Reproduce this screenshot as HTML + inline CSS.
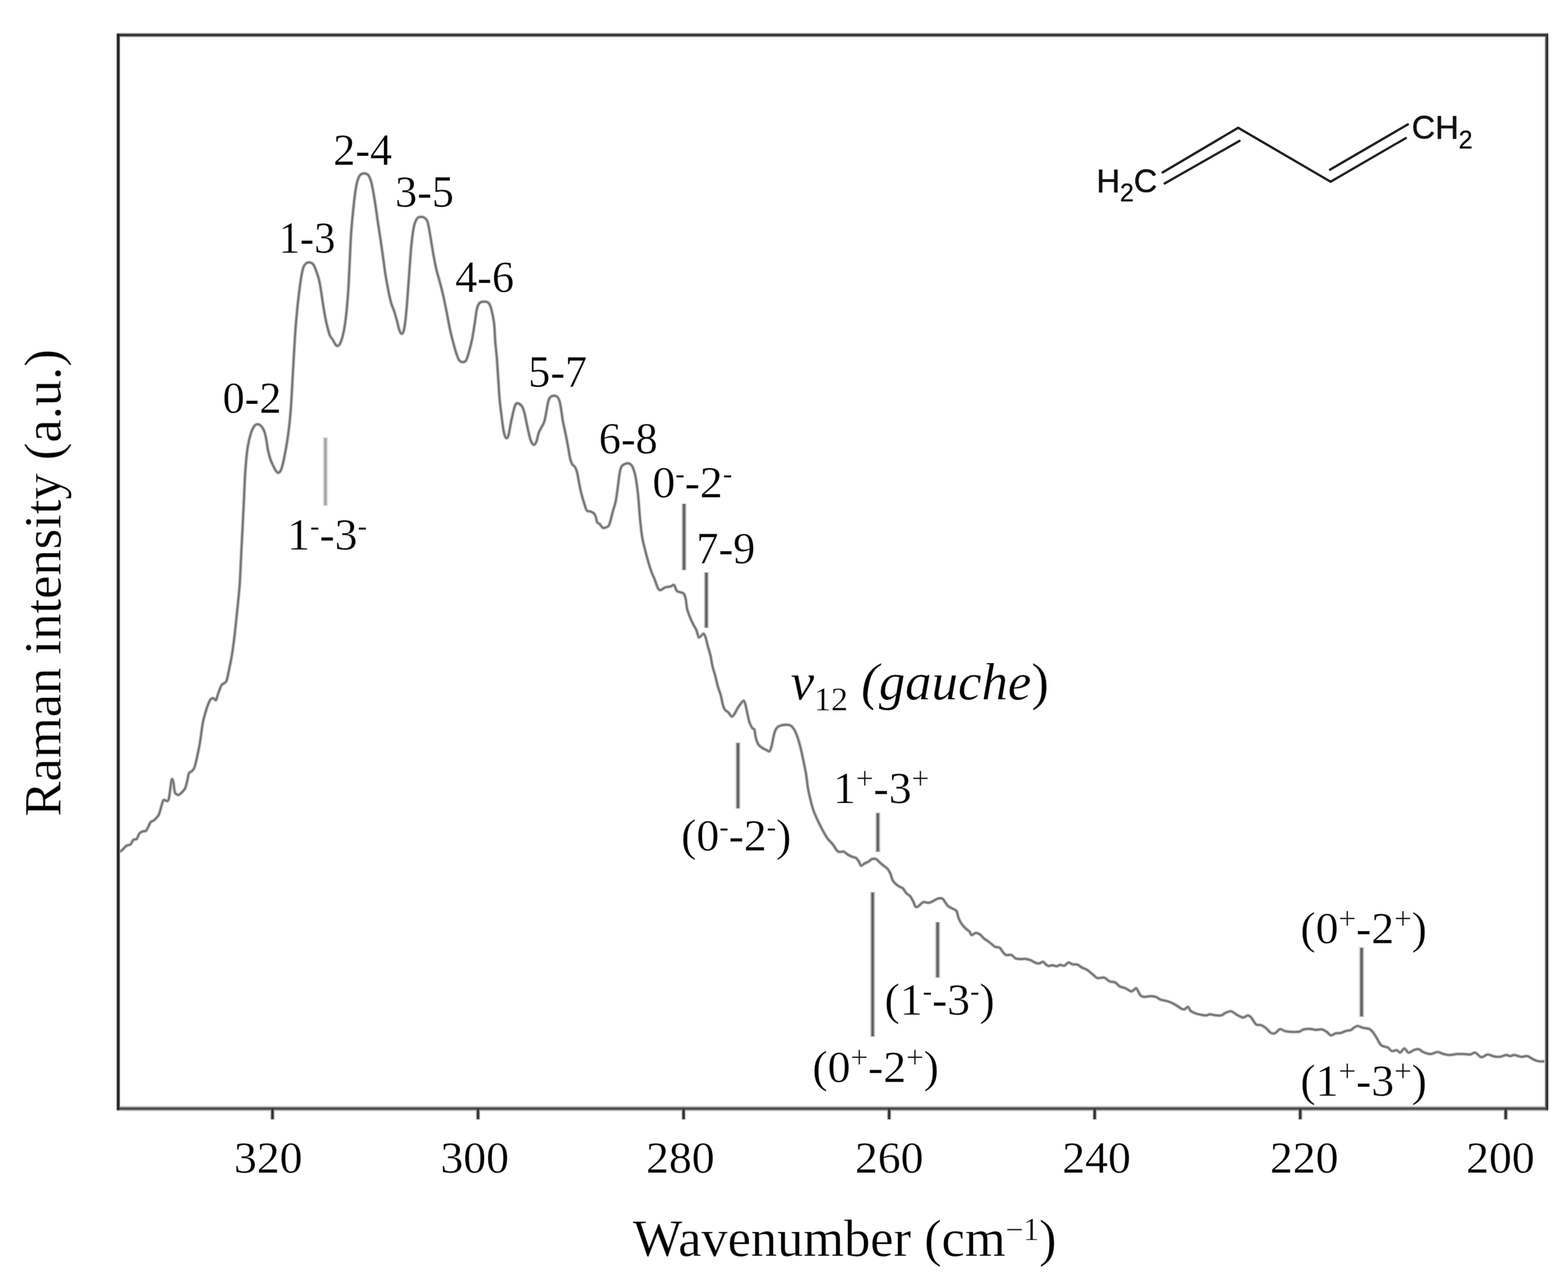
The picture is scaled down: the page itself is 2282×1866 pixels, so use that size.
<!DOCTYPE html>
<html lang="en"><head><meta charset="utf-8"><title>Raman spectrum of 1,3-butadiene</title>
<style>html,body{margin:0;padding:0;background:#fff;}body{width:2282px;height:1866px;overflow:hidden;}svg{display:block;}text{font-family:"Liberation Serif",serif;fill:#000;}.sans{font-family:"Liberation Sans",sans-serif;fill:#111;}.lab text{stroke:#fff;stroke-opacity:0.45;stroke-width:1.0px;stroke-linejoin:round;}.lab text.sans{stroke:#111;stroke-opacity:1;stroke-width:0.5px;}</style></head><body>
<svg xmlns="http://www.w3.org/2000/svg" width="2282" height="1866" viewBox="0 0 2282 1866">
<rect width="2282" height="1866" fill="#fff"/>
<defs><path id="sp" d="M172.4,1241.0C173.3,1240.3 176.1,1238.7 178.0,1237.0C179.9,1235.3 182.0,1232.3 184.0,1231.0C186.0,1229.7 188.3,1230.4 190.0,1229.0C191.7,1227.6 192.5,1223.9 194.0,1222.6C195.5,1221.3 197.5,1222.6 199.0,1221.0C200.5,1219.4 201.5,1214.8 203.0,1213.0C204.5,1211.2 206.3,1210.7 208.0,1210.0C209.7,1209.3 211.2,1210.8 213.0,1208.6C214.8,1206.4 217.2,1199.4 219.0,1197.0C220.8,1194.6 222.0,1195.8 224.0,1194.0C226.0,1192.2 229.2,1189.5 231.0,1186.0C232.8,1182.5 233.8,1176.6 235.0,1173.0C236.2,1169.4 236.6,1165.8 238.0,1164.6C239.4,1163.4 242.3,1166.6 243.6,1166.0C244.9,1165.4 245.0,1165.8 246.0,1161.0C247.0,1156.2 248.6,1141.4 249.4,1137.0C250.2,1132.6 250.5,1134.3 251.0,1134.6C251.5,1134.9 251.8,1135.9 252.4,1139.0C253.0,1142.1 253.6,1150.2 254.4,1153.0C255.2,1155.8 256.1,1155.3 257.0,1156.0C257.9,1156.7 258.7,1157.5 260.0,1157.0C261.3,1156.5 263.4,1154.7 265.0,1153.0C266.6,1151.3 268.4,1149.7 269.6,1147.0C270.8,1144.3 271.5,1140.6 272.4,1137.0C273.3,1133.4 273.9,1127.8 275.0,1125.4C276.1,1123.0 277.7,1124.0 279.0,1122.6C280.3,1121.2 281.7,1120.6 283.0,1117.0C284.3,1113.4 285.7,1107.0 287.0,1101.0C288.3,1095.0 289.7,1089.0 291.0,1081.0C292.3,1073.0 293.7,1060.3 295.0,1053.0C296.3,1045.7 297.7,1041.7 299.0,1037.0C300.3,1032.3 301.7,1028.3 303.0,1025.0C304.3,1021.7 305.7,1018.8 307.0,1017.4C308.3,1016.0 309.8,1016.3 311.0,1016.6C312.2,1016.9 313.4,1019.9 314.4,1019.0C315.4,1018.1 315.7,1014.5 317.0,1011.0C318.3,1007.5 320.5,1000.7 322.0,998.0C323.5,995.3 324.7,995.8 326.0,994.6C327.3,993.4 328.5,993.9 329.6,991.0C330.8,988.1 331.7,982.7 332.9,977.0C334.1,971.3 335.7,963.7 336.9,957.0C338.1,950.3 339.0,943.8 339.9,937.0C340.8,930.2 341.4,925.2 342.4,916.0C343.4,906.8 344.8,893.0 345.9,882.0C347.0,871.0 348.1,862.0 348.9,850.0C349.7,838.0 350.2,823.3 350.9,810.0C351.6,796.7 352.2,783.3 352.9,770.0C353.6,756.7 354.2,744.0 354.9,730.0C355.6,716.0 356.1,699.2 357.0,686.0C357.9,672.8 359.1,660.4 360.5,651.0C361.9,641.6 363.8,634.7 365.5,629.5C367.2,624.3 368.9,621.6 370.5,619.6C372.1,617.6 373.6,617.4 375.2,617.5C376.8,617.6 378.8,618.5 380.4,620.3C382.0,622.0 383.5,625.0 384.7,628.0C385.9,631.0 386.4,633.9 387.3,638.4C388.2,642.9 388.9,649.9 389.9,654.8C390.9,659.7 392.0,663.9 393.3,667.8C394.6,671.7 396.2,675.2 397.7,678.2C399.1,681.2 400.8,684.2 402.0,685.9C403.2,687.5 403.9,688.4 405.0,688.1C406.1,687.8 407.7,686.9 408.9,684.2C410.1,681.5 411.2,677.0 412.4,672.1C413.5,667.2 414.6,661.3 415.8,654.8C417.0,648.3 418.3,640.7 419.3,633.2C420.3,625.7 421.1,619.4 422.0,610.0C422.9,600.6 423.6,590.3 424.4,577.0C425.2,563.7 426.1,546.2 427.0,530.0C427.9,513.8 429.0,494.0 430.0,480.0C431.0,466.0 432.0,456.0 433.0,446.0C434.0,436.0 435.0,427.7 436.0,420.0C437.0,412.3 438.0,405.3 439.0,400.0C440.0,394.7 440.8,390.8 442.0,388.0C443.2,385.2 444.5,384.0 446.0,383.0C447.5,382.0 449.3,381.7 451.0,382.0C452.7,382.3 454.5,383.0 456.0,385.0C457.5,387.0 458.7,390.5 460.0,394.0C461.3,397.5 462.8,401.3 464.0,406.0C465.2,410.7 466.0,416.0 467.0,422.0C468.0,428.0 469.0,435.7 470.0,442.0C471.0,448.3 472.0,454.7 473.0,460.0C474.0,465.3 474.8,469.3 476.0,474.0C477.2,478.7 478.7,484.7 480.0,488.0C481.3,491.3 482.7,491.8 484.0,494.0C485.3,496.2 486.8,499.4 488.0,501.0C489.2,502.6 489.8,503.8 491.0,503.6C492.2,503.4 493.7,502.6 495.0,500.0C496.3,497.4 497.8,493.0 499.0,488.0C500.2,483.0 501.4,477.0 502.4,470.0C503.4,463.0 504.2,454.3 505.0,446.0C505.8,437.7 506.3,431.0 507.0,420.0C507.7,409.0 508.3,393.3 509.0,380.0C509.7,366.7 510.2,352.3 511.0,340.0C511.8,327.7 513.0,316.0 514.0,306.0C515.0,296.0 516.0,287.0 517.0,280.0C518.0,273.0 518.8,268.2 520.0,264.0C521.2,259.8 522.3,256.9 524.0,255.0C525.7,253.1 528.0,252.4 530.0,252.4C532.0,252.4 534.3,253.1 536.0,255.0C537.7,256.9 538.8,260.2 540.0,264.0C541.2,267.8 542.0,272.7 543.0,278.0C544.0,283.3 544.8,288.3 546.0,296.0C547.2,303.7 548.7,315.0 550.0,324.0C551.3,333.0 552.7,341.0 554.0,350.0C555.3,359.0 556.8,369.7 558.0,378.0C559.2,386.3 559.8,392.7 561.0,400.0C562.2,407.3 563.7,415.3 565.0,422.0C566.3,428.7 567.5,434.7 569.0,440.0C570.5,445.3 572.5,449.3 574.0,454.0C575.5,458.7 576.8,463.7 578.0,468.0C579.2,472.3 580.0,477.1 581.0,480.0C582.0,482.9 583.0,485.1 584.0,485.6C585.0,486.1 586.1,485.6 587.0,483.0C587.9,480.4 588.8,476.2 589.6,470.0C590.4,463.8 591.2,455.3 592.0,446.0C592.8,436.7 593.7,424.0 594.4,414.0C595.1,404.0 595.7,395.0 596.4,386.0C597.1,377.0 597.6,368.0 598.4,360.0C599.2,352.0 600.1,344.0 601.0,338.0C601.9,332.0 602.8,327.5 604.0,324.0C605.2,320.5 606.5,318.4 608.0,317.0C609.5,315.6 611.3,315.6 613.0,315.6C614.7,315.6 616.5,315.9 618.0,317.0C619.5,318.1 620.8,318.8 622.0,322.0C623.2,325.2 624.0,330.7 625.0,336.0C626.0,341.3 627.0,348.0 628.0,354.0C629.0,360.0 629.8,365.7 631.0,372.0C632.2,378.3 633.5,385.7 635.0,392.0C636.5,398.3 638.3,403.7 640.0,410.0C641.7,416.3 643.3,422.7 645.0,430.0C646.7,437.3 648.3,445.7 650.0,454.0C651.7,462.3 653.3,472.3 655.0,480.0C656.7,487.7 658.5,494.3 660.0,500.0C661.5,505.7 662.7,510.0 664.0,514.0C665.3,518.0 666.5,521.8 668.0,524.0C669.5,526.2 671.3,526.8 673.0,527.0C674.7,527.2 676.5,527.2 678.0,525.0C679.5,522.8 680.5,519.2 682.0,514.0C683.5,508.8 685.5,501.3 687.0,494.0C688.5,486.7 689.8,477.3 691.0,470.0C692.2,462.7 692.8,454.8 694.0,450.0C695.2,445.2 696.2,442.8 698.0,441.0C699.8,439.2 702.8,439.0 705.0,439.0C707.2,439.0 709.3,439.2 711.0,441.0C712.7,442.8 713.7,445.2 715.0,450.0C716.3,454.8 718.0,461.7 719.0,470.0C720.0,478.3 720.3,491.7 721.0,500.0C721.7,508.3 722.3,511.7 723.0,520.0C723.7,528.3 724.3,540.0 725.0,550.0C725.7,560.0 726.2,570.7 727.0,580.0C727.8,589.3 729.1,598.7 730.0,606.0C730.9,613.3 731.6,619.2 732.4,624.0C733.2,628.8 734.1,632.7 735.0,635.0C735.9,637.3 737.1,638.1 738.0,637.6C738.9,637.1 739.6,635.3 740.4,632.0C741.2,628.7 742.1,622.7 743.0,618.0C743.9,613.3 745.0,608.3 746.0,604.0C747.0,599.7 748.0,594.8 749.0,592.0C750.0,589.2 750.8,587.7 752.0,587.0C753.2,586.3 754.7,587.2 756.0,588.0C757.3,588.8 758.8,590.0 760.0,592.0C761.2,594.0 762.0,596.3 763.0,600.0C764.0,603.7 765.0,609.3 766.0,614.0C767.0,618.7 768.0,623.7 769.0,628.0C770.0,632.3 771.0,637.0 772.0,640.0C773.0,643.0 774.0,644.8 775.0,646.0C776.0,647.2 777.0,647.7 778.0,647.0C779.0,646.3 780.0,644.8 781.0,642.0C782.0,639.2 782.8,633.3 784.0,630.0C785.2,626.7 786.7,624.7 788.0,622.0C789.3,619.3 790.8,617.7 792.0,614.0C793.2,610.3 794.0,605.0 795.0,600.0C796.0,595.0 797.0,587.7 798.0,584.0C799.0,580.3 799.7,579.3 801.0,578.0C802.3,576.7 804.3,576.1 806.0,576.0C807.7,575.9 809.6,576.3 811.0,577.6C812.4,578.9 813.4,580.6 814.4,584.0C815.4,587.4 816.2,593.3 817.0,598.0C817.8,602.7 818.1,607.0 819.0,612.0C819.9,617.0 821.3,622.7 822.4,628.0C823.5,633.3 824.6,638.7 825.6,644.0C826.6,649.3 827.6,655.7 828.4,660.0C829.2,664.3 829.6,667.3 830.4,670.0C831.2,672.7 831.9,674.3 833.0,676.0C834.1,677.7 835.8,678.0 837.0,680.0C838.2,682.0 839.0,684.0 840.0,688.0C841.0,692.0 842.0,699.0 843.0,704.0C844.0,709.0 844.8,713.3 846.0,718.0C847.2,722.7 848.7,727.8 850.0,732.0C851.3,736.2 852.5,740.9 854.0,743.0C855.5,745.1 857.3,743.7 859.0,744.4C860.7,745.1 862.7,745.7 864.0,747.0C865.3,748.3 866.2,749.8 867.0,752.0C867.8,754.2 868.0,758.2 869.0,760.0C870.0,761.8 871.7,761.7 873.0,763.0C874.3,764.3 875.7,767.2 877.0,768.0C878.3,768.8 879.5,768.5 881.0,768.0C882.5,767.5 884.7,767.0 886.0,765.0C887.3,763.0 888.0,759.5 889.0,756.0C890.0,752.5 890.8,748.3 892.0,744.0C893.2,739.7 894.8,735.7 896.0,730.0C897.2,724.3 898.1,716.7 899.0,710.0C899.9,703.3 900.8,695.0 901.6,690.0C902.4,685.0 902.9,682.3 904.0,680.0C905.1,677.7 906.3,676.9 908.0,676.0C909.7,675.1 912.2,674.2 914.0,674.4C915.8,674.6 917.5,675.1 919.0,677.0C920.5,678.9 921.8,682.2 923.0,686.0C924.2,689.8 925.0,693.7 926.0,700.0C927.0,706.3 928.2,715.7 929.0,724.0C929.8,732.3 930.3,742.3 931.0,750.0C931.7,757.7 932.3,764.3 933.0,770.0C933.7,775.7 934.2,779.5 935.0,784.0C935.8,788.5 936.7,791.7 938.0,797.0C939.3,802.3 941.3,810.2 943.0,816.0C944.7,821.8 946.3,827.3 948.0,832.0C949.7,836.7 951.5,840.2 953.0,844.0C954.5,847.8 955.7,852.5 957.0,855.0C958.3,857.5 959.2,859.0 961.0,859.0C962.8,859.0 965.5,855.9 968.0,855.0C970.5,854.1 973.8,854.2 976.0,853.6C978.2,853.0 979.5,850.5 981.0,851.6C982.5,852.7 983.5,858.3 985.0,860.0C986.5,861.7 988.3,861.3 990.0,862.0C991.7,862.7 993.7,862.3 995.0,864.0C996.3,865.7 997.2,868.3 998.0,872.0C998.8,875.7 999.0,881.7 1000.0,886.0C1001.0,890.3 1002.5,894.2 1004.0,898.0C1005.5,901.8 1007.5,906.0 1009.0,909.0C1010.5,912.0 1011.9,913.5 1013.0,916.0C1014.1,918.5 1014.9,922.0 1015.6,924.0C1016.3,926.0 1016.1,927.8 1017.0,928.0C1017.9,928.2 1019.8,925.9 1021.0,925.0C1022.2,924.1 1023.0,921.9 1024.0,922.4C1025.0,922.9 1026.0,925.1 1027.0,928.0C1028.0,930.9 1028.8,935.7 1030.0,940.0C1031.2,944.3 1032.8,949.0 1034.0,954.0C1035.2,959.0 1035.8,965.0 1037.0,970.0C1038.2,975.0 1039.7,979.0 1041.0,984.0C1042.3,989.0 1043.7,995.3 1045.0,1000.0C1046.3,1004.7 1047.8,1007.7 1049.0,1012.0C1050.2,1016.3 1051.0,1022.5 1052.0,1026.0C1053.0,1029.5 1053.7,1031.2 1055.0,1033.0C1056.3,1034.8 1058.3,1035.3 1060.0,1037.0C1061.7,1038.7 1063.5,1042.7 1065.0,1043.0C1066.5,1043.3 1067.5,1041.2 1069.0,1039.0C1070.5,1036.8 1072.3,1032.7 1074.0,1030.0C1075.7,1027.3 1077.6,1024.7 1079.0,1023.0C1080.4,1021.3 1081.4,1019.5 1082.4,1020.0C1083.4,1020.5 1084.1,1022.7 1085.0,1026.0C1085.9,1029.3 1087.0,1035.7 1088.0,1040.0C1089.0,1044.3 1089.8,1048.7 1091.0,1052.0C1092.2,1055.3 1093.8,1058.3 1095.0,1060.0C1096.2,1061.7 1097.2,1059.7 1098.0,1062.0C1098.8,1064.3 1099.0,1070.3 1100.0,1074.0C1101.0,1077.7 1102.3,1081.5 1104.0,1084.0C1105.7,1086.5 1108.0,1087.7 1110.0,1089.0C1112.0,1090.3 1114.4,1091.2 1116.0,1092.0C1117.6,1092.8 1118.5,1094.3 1119.6,1093.6C1120.7,1092.9 1121.5,1090.9 1122.4,1088.0C1123.3,1085.1 1124.1,1080.0 1125.0,1076.0C1125.9,1072.0 1126.8,1067.0 1128.0,1064.0C1129.2,1061.0 1130.3,1059.4 1132.0,1058.0C1133.7,1056.6 1135.7,1056.1 1138.0,1055.6C1140.3,1055.1 1143.7,1054.8 1146.0,1055.0C1148.3,1055.2 1150.2,1055.5 1152.0,1057.0C1153.8,1058.5 1155.5,1061.2 1157.0,1064.0C1158.5,1066.8 1159.7,1070.0 1161.0,1074.0C1162.3,1078.0 1163.7,1082.7 1165.0,1088.0C1166.3,1093.3 1167.7,1099.7 1169.0,1106.0C1170.3,1112.3 1171.8,1119.0 1173.0,1126.0C1174.2,1133.0 1174.8,1141.3 1176.0,1148.0C1177.2,1154.7 1178.7,1160.7 1180.0,1166.0C1181.3,1171.3 1182.3,1175.3 1184.0,1180.0C1185.7,1184.7 1187.8,1189.3 1190.0,1194.0C1192.2,1198.7 1194.7,1203.7 1197.0,1208.0C1199.3,1212.3 1201.5,1216.5 1204.0,1220.0C1206.5,1223.5 1209.7,1226.0 1212.0,1229.0C1214.3,1232.0 1216.3,1236.2 1218.0,1238.0C1219.7,1239.8 1220.3,1239.7 1222.0,1240.0C1223.7,1240.3 1226.0,1238.9 1228.0,1239.6C1230.0,1240.3 1232.0,1242.8 1234.0,1244.0C1236.0,1245.2 1238.0,1246.2 1240.0,1247.0C1242.0,1247.8 1244.3,1247.8 1246.0,1249.0C1247.7,1250.2 1248.8,1252.2 1250.0,1254.0C1251.2,1255.8 1251.7,1259.5 1253.0,1260.0C1254.3,1260.5 1256.2,1258.0 1258.0,1257.0C1259.8,1256.0 1262.2,1255.1 1264.0,1254.0C1265.8,1252.9 1267.2,1251.0 1269.0,1250.4C1270.8,1249.8 1273.2,1249.6 1275.0,1250.4C1276.8,1251.2 1278.2,1253.4 1280.0,1255.0C1281.8,1256.6 1284.0,1258.3 1286.0,1260.0C1288.0,1261.7 1290.3,1263.0 1292.0,1265.0C1293.7,1267.0 1294.8,1269.3 1296.0,1272.0C1297.2,1274.7 1297.7,1278.5 1299.0,1281.0C1300.3,1283.5 1302.2,1285.3 1304.0,1287.0C1305.8,1288.7 1308.3,1290.0 1310.0,1291.0C1311.7,1292.0 1312.5,1291.5 1314.0,1293.0C1315.5,1294.5 1317.2,1298.0 1319.0,1300.0C1320.8,1302.0 1323.3,1303.0 1325.0,1305.0C1326.7,1307.0 1327.8,1309.7 1329.0,1312.0C1330.2,1314.3 1331.0,1317.7 1332.0,1319.0C1333.0,1320.3 1333.7,1320.5 1335.0,1320.0C1336.3,1319.5 1338.5,1317.2 1340.0,1316.0C1341.5,1314.8 1342.0,1313.3 1344.0,1313.0C1346.0,1312.7 1349.5,1314.3 1352.0,1314.0C1354.5,1313.7 1356.7,1312.1 1359.0,1311.0C1361.3,1309.9 1363.8,1308.0 1366.0,1307.6C1368.2,1307.2 1370.3,1307.3 1372.0,1308.4C1373.7,1309.5 1374.7,1312.2 1376.0,1314.0C1377.3,1315.8 1378.3,1317.6 1380.0,1319.0C1381.7,1320.4 1384.0,1321.2 1386.0,1322.4C1388.0,1323.6 1390.5,1323.7 1392.0,1326.0C1393.5,1328.3 1393.8,1333.0 1395.0,1336.0C1396.2,1339.0 1397.3,1341.5 1399.0,1344.0C1400.7,1346.5 1403.0,1349.0 1405.0,1351.0C1407.0,1353.0 1409.5,1354.3 1411.0,1356.0C1412.5,1357.7 1412.5,1360.7 1414.0,1361.0C1415.5,1361.3 1418.0,1358.2 1420.0,1358.0C1422.0,1357.8 1424.0,1358.7 1426.0,1360.0C1428.0,1361.3 1430.0,1364.3 1432.0,1366.0C1434.0,1367.7 1436.2,1368.7 1438.0,1370.0C1439.8,1371.3 1441.3,1372.7 1443.0,1374.0C1444.7,1375.3 1446.0,1377.1 1448.0,1378.0C1450.0,1378.9 1453.2,1378.4 1455.0,1379.6C1456.8,1380.8 1457.5,1383.3 1459.0,1385.0C1460.5,1386.7 1461.8,1389.2 1464.0,1390.0C1466.2,1390.8 1469.7,1389.2 1472.0,1390.0C1474.3,1390.8 1475.7,1394.0 1478.0,1395.0C1480.3,1396.0 1483.7,1395.9 1486.0,1396.0C1488.3,1396.1 1489.7,1395.3 1492.0,1395.6C1494.3,1395.9 1497.7,1396.7 1500.0,1397.6C1502.3,1398.5 1504.0,1400.2 1506.0,1401.0C1508.0,1401.8 1510.0,1402.6 1512.0,1402.4C1514.0,1402.2 1516.3,1399.8 1518.0,1400.0C1519.7,1400.2 1520.7,1402.6 1522.0,1403.6C1523.3,1404.6 1524.3,1405.8 1526.0,1406.0C1527.7,1406.2 1530.0,1404.9 1532.0,1405.0C1534.0,1405.1 1536.2,1406.5 1538.0,1406.4C1539.8,1406.3 1541.2,1404.5 1543.0,1404.4C1544.8,1404.3 1547.0,1406.2 1549.0,1405.6C1551.0,1405.0 1553.0,1401.3 1555.0,1401.0C1557.0,1400.7 1558.8,1403.1 1561.0,1403.6C1563.2,1404.1 1565.8,1403.3 1568.0,1404.0C1570.2,1404.7 1571.7,1406.7 1574.0,1408.0C1576.3,1409.3 1579.3,1409.9 1582.0,1411.6C1584.7,1413.3 1587.5,1416.0 1590.0,1418.0C1592.5,1420.0 1594.2,1422.8 1597.0,1423.6C1599.8,1424.4 1604.0,1422.2 1607.0,1423.0C1610.0,1423.8 1612.3,1427.2 1615.0,1428.4C1617.7,1429.6 1620.5,1428.7 1623.0,1430.0C1625.5,1431.3 1627.5,1434.6 1630.0,1436.0C1632.5,1437.4 1635.3,1437.2 1638.0,1438.4C1640.7,1439.6 1644.0,1442.6 1646.0,1443.0C1648.0,1443.4 1648.7,1441.8 1650.0,1441.0C1651.3,1440.2 1652.4,1437.9 1653.6,1438.4C1654.8,1438.9 1655.9,1442.2 1657.0,1444.0C1658.1,1445.8 1658.7,1447.8 1660.0,1449.0C1661.3,1450.2 1662.7,1450.8 1665.0,1451.0C1667.3,1451.2 1671.2,1450.0 1674.0,1450.0C1676.8,1450.0 1679.5,1450.2 1682.0,1451.0C1684.5,1451.8 1686.3,1454.0 1689.0,1455.0C1691.7,1456.0 1695.2,1456.2 1698.0,1457.0C1700.8,1457.8 1703.5,1458.8 1706.0,1460.0C1708.5,1461.2 1710.8,1462.7 1713.0,1464.0C1715.2,1465.3 1717.2,1467.2 1719.0,1468.0C1720.8,1468.8 1722.3,1469.4 1724.0,1469.0C1725.7,1468.6 1727.5,1465.2 1729.0,1465.6C1730.5,1466.0 1731.2,1470.0 1733.0,1471.6C1734.8,1473.2 1737.5,1474.1 1740.0,1475.0C1742.5,1475.9 1745.5,1476.5 1748.0,1477.0C1750.5,1477.5 1752.8,1478.1 1755.0,1478.0C1757.2,1477.9 1758.8,1476.5 1761.0,1476.4C1763.2,1476.3 1765.3,1477.3 1768.0,1477.6C1770.7,1477.9 1774.3,1478.6 1777.0,1478.0C1779.7,1477.4 1781.5,1475.0 1784.0,1474.0C1786.5,1473.0 1789.3,1471.5 1792.0,1472.0C1794.7,1472.5 1797.2,1475.5 1800.0,1477.0C1802.8,1478.5 1806.3,1480.8 1809.0,1481.0C1811.7,1481.2 1814.0,1478.0 1816.0,1478.0C1818.0,1478.0 1819.0,1478.8 1821.0,1481.0C1823.0,1483.2 1825.7,1489.2 1828.0,1491.0C1830.3,1492.8 1832.7,1491.2 1835.0,1492.0C1837.3,1492.8 1839.7,1494.2 1842.0,1496.0C1844.3,1497.8 1847.0,1501.6 1849.0,1503.0C1851.0,1504.4 1852.5,1504.6 1854.0,1504.4C1855.5,1504.2 1856.5,1503.1 1858.0,1502.0C1859.5,1500.9 1860.8,1498.2 1863.0,1498.0C1865.2,1497.8 1868.0,1500.3 1871.0,1501.0C1874.0,1501.7 1877.7,1501.9 1881.0,1502.0C1884.3,1502.1 1888.3,1502.2 1891.0,1501.6C1893.7,1501.0 1894.3,1499.1 1897.0,1498.4C1899.7,1497.7 1904.0,1497.5 1907.0,1497.6C1910.0,1497.7 1912.2,1498.9 1915.0,1499.0C1917.8,1499.1 1921.3,1497.9 1924.0,1498.4C1926.7,1498.9 1928.8,1500.6 1931.0,1502.0C1933.2,1503.4 1934.8,1506.7 1937.0,1507.0C1939.2,1507.3 1941.7,1504.6 1944.0,1504.0C1946.3,1503.4 1948.5,1504.2 1951.0,1503.6C1953.5,1503.0 1956.6,1501.2 1959.1,1500.5C1961.6,1499.8 1964.1,1500.1 1966.2,1499.2C1968.2,1498.3 1969.5,1496.2 1971.2,1495.3C1972.9,1494.3 1974.2,1493.2 1976.3,1493.3C1978.3,1493.4 1980.6,1495.3 1983.3,1496.0C1986.0,1496.7 1990.1,1496.6 1992.4,1497.5C1994.8,1498.4 1995.6,1499.4 1997.5,1501.6C1999.3,1503.8 2001.7,1507.6 2003.5,1510.6C2005.4,1513.7 2007.1,1517.7 2008.6,1519.7C2010.1,1521.7 2010.8,1521.9 2012.6,1522.7C2014.5,1523.6 2017.5,1523.6 2019.7,1524.8C2021.9,1526.0 2023.6,1529.3 2025.8,1529.9C2027.9,1530.5 2030.8,1528.2 2032.8,1528.6C2034.8,1528.9 2036.0,1532.5 2037.9,1532.0C2039.7,1531.6 2041.9,1526.1 2043.9,1526.1C2046.0,1526.1 2047.6,1531.8 2050.0,1532.2C2052.3,1532.5 2055.5,1529.0 2058.0,1528.2C2060.5,1527.4 2062.8,1526.7 2065.0,1527.2C2067.2,1527.7 2068.2,1530.0 2071.0,1531.2C2073.8,1532.4 2078.5,1534.2 2082.0,1534.2C2085.5,1534.2 2088.8,1531.2 2092.0,1531.2C2095.2,1531.2 2098.0,1533.5 2101.0,1534.2C2104.0,1534.9 2106.8,1535.6 2110.0,1535.6C2113.2,1535.6 2116.7,1534.4 2120.0,1534.2C2123.3,1534.0 2126.7,1534.1 2130.0,1534.2C2133.3,1534.3 2137.2,1535.1 2140.0,1534.8C2142.8,1534.5 2144.3,1531.5 2147.0,1532.2C2149.7,1532.9 2153.0,1538.4 2156.0,1538.8C2159.0,1539.2 2162.0,1535.0 2165.0,1534.8C2168.0,1534.6 2171.0,1537.0 2174.0,1537.6C2177.0,1538.2 2180.0,1538.5 2183.0,1538.2C2186.0,1537.9 2189.5,1535.8 2192.0,1535.6C2194.5,1535.4 2196.0,1537.2 2198.0,1537.2C2200.0,1537.2 2201.3,1535.4 2204.0,1535.6C2206.7,1535.8 2210.8,1537.9 2214.0,1538.2C2217.2,1538.5 2220.0,1536.5 2223.0,1537.2C2226.0,1537.9 2229.2,1540.9 2232.0,1542.2C2234.8,1543.5 2237.0,1544.4 2240.0,1544.8C2243.0,1545.2 2248.3,1544.8 2250.0,1544.8"/></defs>
<g fill="none" stroke-linejoin="round" stroke-linecap="butt">
<use href="#sp" stroke="#eeeeee" stroke-width="6.2"/>
<use href="#sp" stroke="#cccccc" stroke-width="4.6"/>
<use href="#sp" stroke="#969696" stroke-width="3.3"/>
<use href="#sp" stroke="#747474" stroke-width="2.1"/>
</g>
<g fill="none" stroke-linecap="butt">
<line x1="170.1" y1="1613.6" x2="2253.0" y2="1613.6" stroke="#dcdcdc" stroke-width="8"/>
<line x1="396.55" y1="1613.6" x2="396.55" y2="1629.8" stroke="#d8d8d8" stroke-width="7" stroke-linecap="butt"/>
<line x1="695.7" y1="1613.6" x2="695.7" y2="1629.8" stroke="#d8d8d8" stroke-width="7" stroke-linecap="butt"/>
<line x1="994.85" y1="1613.6" x2="994.85" y2="1629.8" stroke="#d8d8d8" stroke-width="7" stroke-linecap="butt"/>
<line x1="1294.0" y1="1613.6" x2="1294.0" y2="1629.8" stroke="#d8d8d8" stroke-width="7" stroke-linecap="butt"/>
<line x1="1593.15" y1="1613.6" x2="1593.15" y2="1629.8" stroke="#d8d8d8" stroke-width="7" stroke-linecap="butt"/>
<line x1="1892.3" y1="1613.6" x2="1892.3" y2="1629.8" stroke="#d8d8d8" stroke-width="7" stroke-linecap="butt"/>
<line x1="2191.4" y1="1613.6" x2="2191.4" y2="1629.8" stroke="#d8d8d8" stroke-width="7" stroke-linecap="butt"/>
<line x1="172.1" y1="49.0" x2="172.1" y2="1615.6" stroke="#cccccc" stroke-width="6"/>
<line x1="2251.0" y1="49.0" x2="2251.0" y2="1615.6" stroke="#cacaca" stroke-width="7"/>
<line x1="170.1" y1="51.0" x2="2253.0" y2="51.0" stroke="#c8c8c8" stroke-width="7"/>
<line x1="170.1" y1="1613.6" x2="2253.0" y2="1613.6" stroke="#a0a0a0" stroke-width="5.6"/>
<line x1="396.55" y1="1613.6" x2="396.55" y2="1629.2" stroke="#6a6a6a" stroke-width="4.4" stroke-linecap="butt"/>
<line x1="695.7" y1="1613.6" x2="695.7" y2="1629.2" stroke="#6a6a6a" stroke-width="4.4" stroke-linecap="butt"/>
<line x1="994.85" y1="1613.6" x2="994.85" y2="1629.2" stroke="#6a6a6a" stroke-width="4.4" stroke-linecap="butt"/>
<line x1="1294.0" y1="1613.6" x2="1294.0" y2="1629.2" stroke="#6a6a6a" stroke-width="4.4" stroke-linecap="butt"/>
<line x1="1593.15" y1="1613.6" x2="1593.15" y2="1629.2" stroke="#6a6a6a" stroke-width="4.4" stroke-linecap="butt"/>
<line x1="1892.3" y1="1613.6" x2="1892.3" y2="1629.2" stroke="#6a6a6a" stroke-width="4.4" stroke-linecap="butt"/>
<line x1="2191.4" y1="1613.6" x2="2191.4" y2="1629.2" stroke="#6a6a6a" stroke-width="4.4" stroke-linecap="butt"/>
<line x1="172.1" y1="49.0" x2="172.1" y2="1615.6" stroke="#585858" stroke-width="4.4"/>
<line x1="2251.0" y1="49.0" x2="2251.0" y2="1615.6" stroke="#555555" stroke-width="4"/>
<line x1="170.1" y1="1613.6" x2="2253.0" y2="1613.6" stroke="#505050" stroke-width="3.4"/>
<line x1="170.1" y1="51.0" x2="2253.0" y2="51.0" stroke="#3c3c3c" stroke-width="4"/>
<line x1="396.55" y1="1613.6" x2="396.55" y2="1628.8" stroke="#303030" stroke-width="2.6" stroke-linecap="butt"/>
<line x1="695.7" y1="1613.6" x2="695.7" y2="1628.8" stroke="#303030" stroke-width="2.6" stroke-linecap="butt"/>
<line x1="994.85" y1="1613.6" x2="994.85" y2="1628.8" stroke="#303030" stroke-width="2.6" stroke-linecap="butt"/>
<line x1="1294.0" y1="1613.6" x2="1294.0" y2="1628.8" stroke="#303030" stroke-width="2.6" stroke-linecap="butt"/>
<line x1="1593.15" y1="1613.6" x2="1593.15" y2="1628.8" stroke="#303030" stroke-width="2.6" stroke-linecap="butt"/>
<line x1="1892.3" y1="1613.6" x2="1892.3" y2="1628.8" stroke="#303030" stroke-width="2.6" stroke-linecap="butt"/>
<line x1="2191.4" y1="1613.6" x2="2191.4" y2="1628.8" stroke="#303030" stroke-width="2.6" stroke-linecap="butt"/>
<line x1="2251.9" y1="49.0" x2="2251.9" y2="1615.6" stroke="#282828" stroke-width="2.2"/>
<line x1="172.1" y1="49.0" x2="172.1" y2="1615.6" stroke="#242424" stroke-width="3"/>
</g>
<line x1="473.6" y1="636.5" x2="473.6" y2="736.5" stroke="#ececec" stroke-width="8"/>
<line x1="473.6" y1="637.2" x2="473.6" y2="735.8" stroke="#bdbdbd" stroke-width="5"/>
<line x1="473.6" y1="638.0" x2="473.6" y2="735.0" stroke="#a0a0a0" stroke-width="2"/>
<line x1="995.5" y1="732.4" x2="995.5" y2="830.6" stroke="#eeeeee" stroke-width="9"/>
<line x1="995.5" y1="733.2" x2="995.5" y2="829.8" stroke="#9a9a9a" stroke-width="5.6"/>
<line x1="995.5" y1="734.0" x2="995.5" y2="829.0" stroke="#5a5a5a" stroke-width="2.4"/>
<line x1="1028" y1="832.4" x2="1028" y2="914.6" stroke="#eeeeee" stroke-width="9"/>
<line x1="1028" y1="833.2" x2="1028" y2="913.8" stroke="#9a9a9a" stroke-width="5.6"/>
<line x1="1028" y1="834.0" x2="1028" y2="913.0" stroke="#5a5a5a" stroke-width="2.4"/>
<line x1="1074" y1="1080.3" x2="1074" y2="1177.7" stroke="#eeeeee" stroke-width="9"/>
<line x1="1074" y1="1081.2" x2="1074" y2="1176.8" stroke="#9a9a9a" stroke-width="5.6"/>
<line x1="1074" y1="1082.0" x2="1074" y2="1176.0" stroke="#5a5a5a" stroke-width="2.4"/>
<line x1="1277.6" y1="1182.3" x2="1277.6" y2="1240.7" stroke="#eeeeee" stroke-width="9"/>
<line x1="1277.6" y1="1183.2" x2="1277.6" y2="1239.8" stroke="#9a9a9a" stroke-width="5.6"/>
<line x1="1277.6" y1="1184.0" x2="1277.6" y2="1239.0" stroke="#5a5a5a" stroke-width="2.4"/>
<line x1="1270" y1="1297.8" x2="1270" y2="1509.7" stroke="#eeeeee" stroke-width="9"/>
<line x1="1270" y1="1298.7" x2="1270" y2="1508.8" stroke="#9a9a9a" stroke-width="5.6"/>
<line x1="1270" y1="1299.5" x2="1270" y2="1508.0" stroke="#5a5a5a" stroke-width="2.4"/>
<line x1="1364.6" y1="1341.3" x2="1364.6" y2="1423.7" stroke="#eeeeee" stroke-width="9"/>
<line x1="1364.6" y1="1342.2" x2="1364.6" y2="1422.8" stroke="#9a9a9a" stroke-width="5.6"/>
<line x1="1364.6" y1="1343.0" x2="1364.6" y2="1422.0" stroke="#5a5a5a" stroke-width="2.4"/>
<line x1="1981.6" y1="1378.3" x2="1981.6" y2="1480.7" stroke="#eeeeee" stroke-width="9"/>
<line x1="1981.6" y1="1379.2" x2="1981.6" y2="1479.8" stroke="#9a9a9a" stroke-width="5.6"/>
<line x1="1981.6" y1="1380.0" x2="1981.6" y2="1479.0" stroke="#5a5a5a" stroke-width="2.4"/>
<g class="lab">
<text transform="translate(340.4,1707.2)" font-size="66.5">320</text>
<text transform="translate(641.0,1707.2)" font-size="66.5">300</text>
<text transform="translate(940.3,1707.2)" font-size="66.5">280</text>
<text transform="translate(1244.2,1707.2)" font-size="66.5">260</text>
<text transform="translate(1546.1,1707.2)" font-size="66.5">240</text>
<text transform="translate(1848.3,1707.2)" font-size="66.5">220</text>
<text transform="translate(2133.7,1707.2)" font-size="66.5">200</text>
<text transform="translate(324.0,600.6) scale(0.9650,1)" font-size="66.5">0-2</text>
<text transform="translate(405.7,368.0) scale(0.9300,1)" font-size="66.5">1-3</text>
<text transform="translate(485.1,239.6) scale(0.9650,1)" font-size="66.5">2-4</text>
<text transform="translate(575.1,301.0) scale(0.9650,1)" font-size="66.5">3-5</text>
<text transform="translate(662.5,425.0) scale(0.9650,1)" font-size="66.5">4-6</text>
<text transform="translate(768.8,563.0) scale(0.9650,1)" font-size="66.5">5-7</text>
<text transform="translate(871.6,660.0) scale(0.9650,1)" font-size="66.5">6-8</text>
<text transform="translate(1013.6,819.6) scale(0.9650,1)" font-size="66.5">7-9</text>
<text transform="translate(949.5,723.6)" font-size="66.5">0<tspan font-size="41.2" dy="-21">-</tspan><tspan dy="21">-2</tspan><tspan font-size="41.2" dy="-21">-</tspan></text>
<text transform="translate(418.0,800.0)" font-size="66.5">1<tspan font-size="41.2" dy="-21">-</tspan><tspan dy="21">-3</tspan><tspan font-size="41.2" dy="-21">-</tspan></text>
<text transform="translate(1212.5,1169.0)" font-size="66.5">1<tspan font-size="45.4" dy="-21">+</tspan><tspan dy="21">-3</tspan><tspan font-size="45.4" dy="-21">+</tspan></text>
<text transform="translate(991.3,1237.6)" font-size="66.5">(0<tspan font-size="41.2" dy="-21">-</tspan><tspan dy="21">-2</tspan><tspan font-size="41.2" dy="-21">-</tspan><tspan dy="21">)</tspan></text>
<text transform="translate(1287.3,1477.0)" font-size="66.5">(1<tspan font-size="41.2" dy="-21">-</tspan><tspan dy="21">-3</tspan><tspan font-size="41.2" dy="-21">-</tspan><tspan dy="21">)</tspan></text>
<text transform="translate(1182.3,1575.3)" font-size="66.5">(0<tspan font-size="45.4" dy="-21">+</tspan><tspan dy="21">-2</tspan><tspan font-size="45.4" dy="-21">+</tspan><tspan dy="21">)</tspan></text>
<text transform="translate(1892.5,1373.0)" font-size="66.5">(0<tspan font-size="45.4" dy="-21">+</tspan><tspan dy="21">-2</tspan><tspan font-size="45.4" dy="-21">+</tspan><tspan dy="21">)</tspan></text>
<text transform="translate(1892.5,1595.0)" font-size="66.5">(1<tspan font-size="45.4" dy="-21">+</tspan><tspan dy="21">-3</tspan><tspan font-size="45.4" dy="-21">+</tspan><tspan dy="21">)</tspan></text>
<text transform="translate(1150.7,1018.0) scale(0.9989,1)" font-size="77"><tspan font-style="italic">v</tspan><tspan font-size="49.3" dy="16">12</tspan><tspan dy="-16"> </tspan><tspan font-style="italic">(gauche</tspan>)</text>
<text transform="translate(921.0,1827.8) scale(0.9910,1)" font-size="77">Wavenumber (cm<tspan font-size="46.2" dy="-23">−1</tspan><tspan dy="23">)</tspan></text>
<text transform="translate(88.4,1188.6) rotate(-90) scale(0.9944,1)" font-size="77">Raman intensity (a.u.)</text>
<text transform="translate(1595.7,280.0)" font-size="47.5" class="sans">H<tspan font-size="36.1" dy="13">2</tspan><tspan dy="-13">C</tspan></text>
<text transform="translate(2054.5,202.0)" font-size="47.5" class="sans">CH<tspan font-size="36.1" dy="14">2</tspan></text>
<g stroke="#202020" stroke-width="3.3" stroke-linecap="round" fill="none">
<path d="M1692,251 L1802,186 L1936.5,264.5 L2046,201"/>
<path d="M1695,267 L1804,205"/><path d="M1935.6,247 L2049,181"/>
</g>
</g>
</svg></body></html>
